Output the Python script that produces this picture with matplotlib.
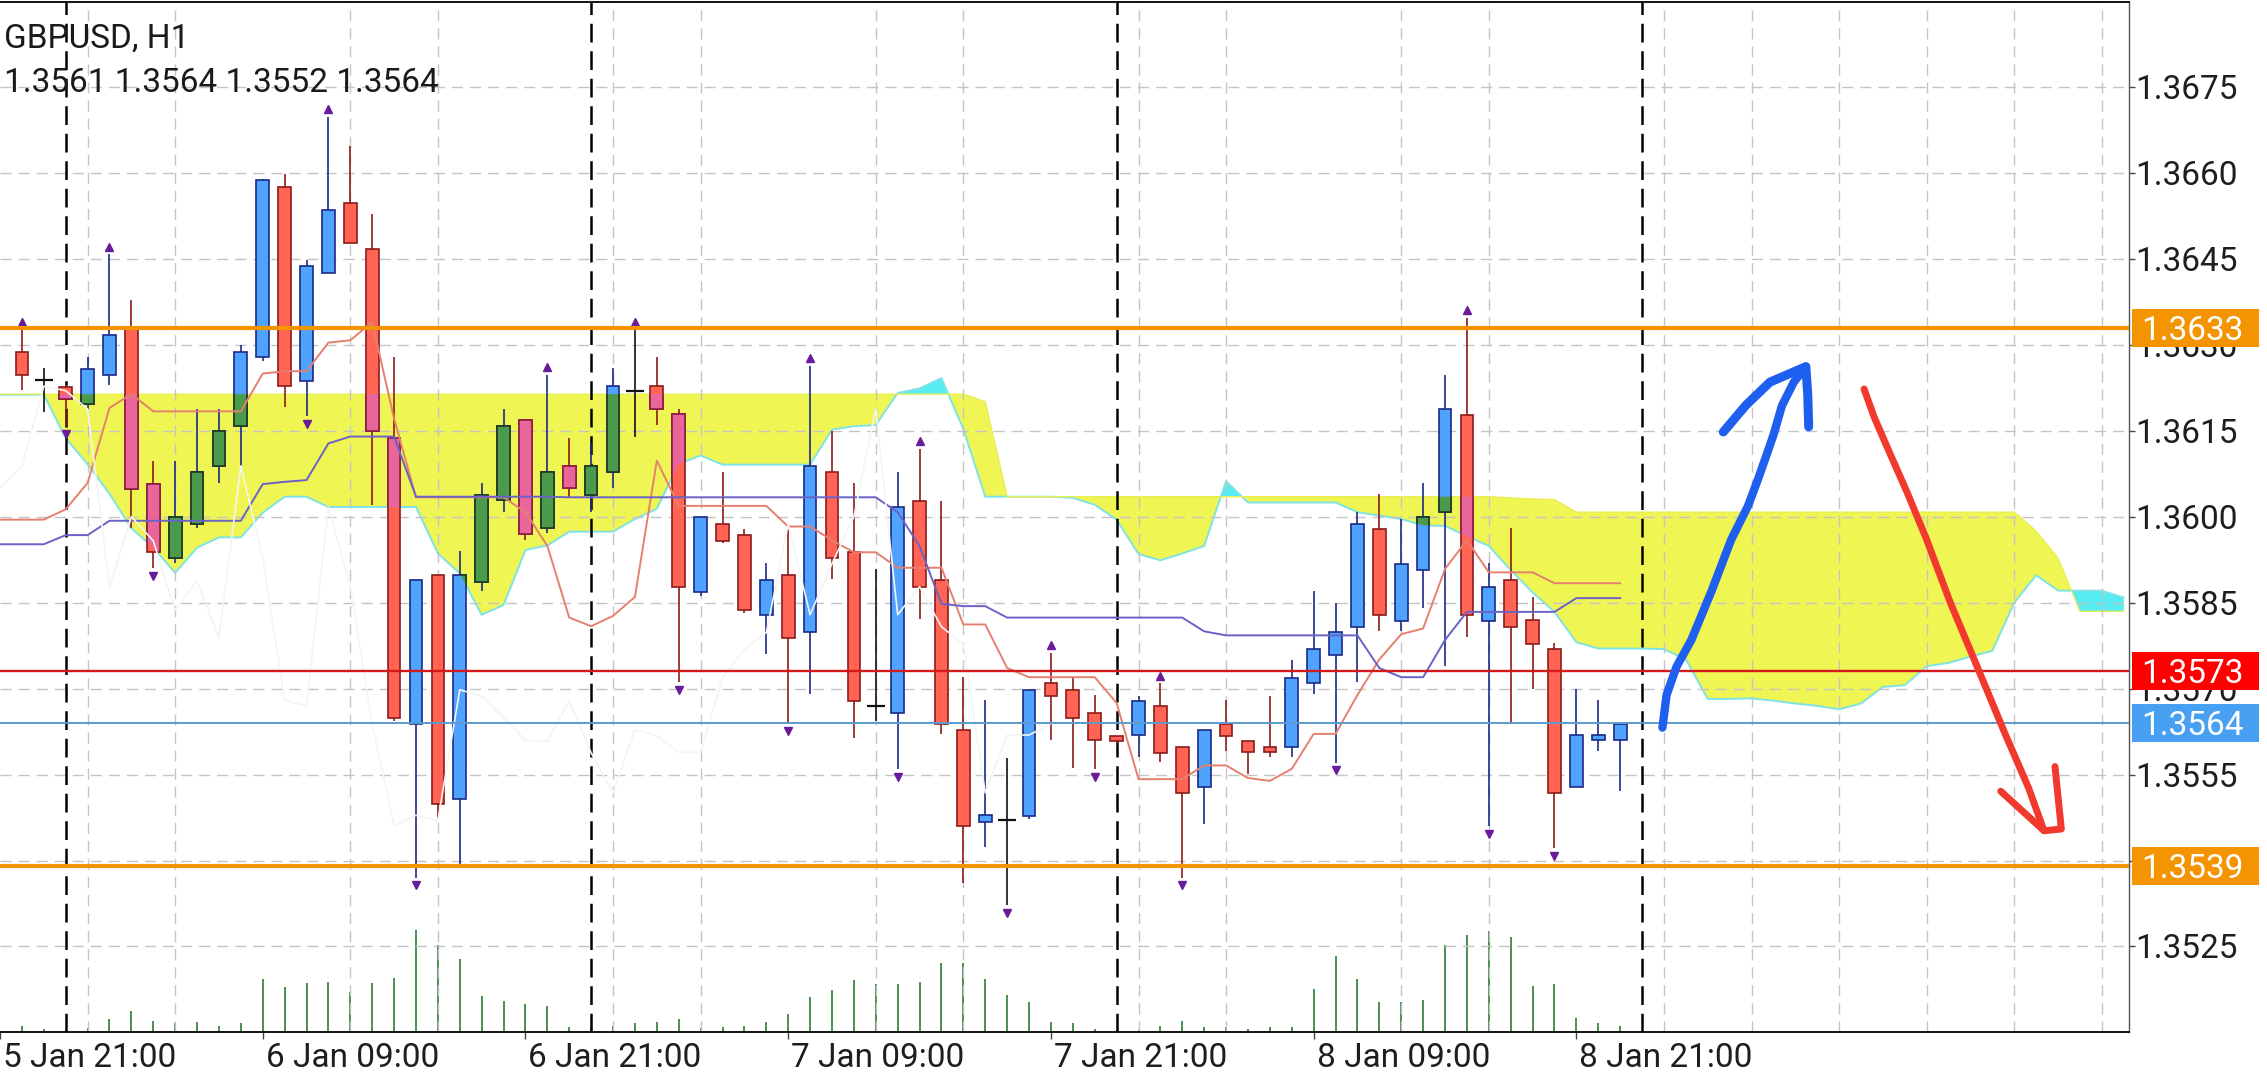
import numpy as np
import matplotlib.pyplot as plt
from matplotlib.path import Path
from matplotlib.patches import Rectangle
from matplotlib.transforms import blended_transform_factory

plt.rcParams['font.family'] = ['Roboto', 'DejaVu Sans']

# bar time in hours from 6 Jan 00:00 (H1 bars)
hours = list(range(-2, 72))
opens = [1.36287, 1.36239, 1.36227, 1.36197, 1.36247, 1.36327, 1.36057, 1.35928, 1.35988, 1.36088,
         1.36158, 1.36278, 1.36576, 1.36237, 1.36426, 1.36547, 1.36467, 1.36137, 1.35639, 1.35899,
         1.35508, 1.35886, 1.36029, 1.36169, 1.35981, 1.36089, 1.36038, 1.36078, 1.36220, 1.36228,
         1.36179, 1.35868, 1.35988, 1.35969, 1.35829, 1.35899, 1.35798, 1.36078, 1.35939, 1.35670,
         1.35658, 1.36027, 1.35889, 1.35628, 1.35468, 1.35470, 1.35478, 1.35709, 1.35698, 1.35658,
         1.35618, 1.35619, 1.35669, 1.35599, 1.35529, 1.35639, 1.35609, 1.35599, 1.35599, 1.35709,
         1.35759, 1.35808, 1.35979, 1.35818, 1.35907, 1.36008, 1.36178, 1.35818, 1.35889, 1.35819,
         1.35769, 1.35529, 1.35610, 1.35610]
highs = [1.36326, 1.36260, 1.36230, 1.36278, 1.36458, 1.36379, 1.36098, 1.36098, 1.36188, 1.36188,
         1.36299, 1.36589, 1.36599, 1.36449, 1.36698, 1.36647, 1.36529, 1.36278, 1.35890, 1.35900,
         1.35940, 1.36059, 1.36188, 1.36170, 1.36248, 1.36137, 1.36128, 1.36260, 1.36326, 1.36278,
         1.36188, 1.36000, 1.36078, 1.35979, 1.35919, 1.35978, 1.36263, 1.36149, 1.36059, 1.35908,
         1.36078, 1.36119, 1.36027, 1.35721, 1.35681, 1.35579, 1.35698, 1.35763, 1.35718, 1.35689,
         1.35618, 1.35688, 1.35709, 1.35599, 1.35628, 1.35680, 1.35609, 1.35688, 1.35750, 1.35871,
         1.35850, 1.36008, 1.36039, 1.35996, 1.36059, 1.36248, 1.36347, 1.35919, 1.35981, 1.35860,
         1.35779, 1.35699, 1.35681, 1.35639]
lows = [1.36221, 1.36182, 1.36158, 1.36188, 1.36230, 1.35981, 1.35910, 1.35919, 1.35981, 1.36059,
        1.36089, 1.36271, 1.36191, 1.36176, 1.36426, 1.36477, 1.36020, 1.35643, 1.35370, 1.35475,
        1.35394, 1.35871, 1.36008, 1.35960, 1.35972, 1.36032, 1.36008, 1.36050, 1.36140, 1.36161,
        1.35712, 1.35862, 1.35955, 1.35832, 1.35761, 1.35640, 1.35691, 1.35892, 1.35613, 1.35643,
        1.35559, 1.35821, 1.35620, 1.35361, 1.35423, 1.35322, 1.35472, 1.35610, 1.35562, 1.35559,
        1.35602, 1.35580, 1.35572, 1.35370, 1.35463, 1.35592, 1.35551, 1.35581, 1.35581, 1.35691,
        1.35571, 1.35712, 1.35800, 1.35800, 1.35841, 1.35740, 1.35790, 1.35460, 1.35641, 1.35700,
        1.35421, 1.35529, 1.35592, 1.35521]
closes = [1.36248, 1.36239, 1.36206, 1.36258, 1.36317, 1.36049, 1.35938, 1.36000, 1.36078, 1.36149,
          1.36287, 1.36587, 1.36228, 1.36438, 1.36536, 1.36477, 1.36149, 1.35649, 1.35889, 1.35499,
          1.35899, 1.36038, 1.36158, 1.35970, 1.36078, 1.36050, 1.36089, 1.36228, 1.36220, 1.36188,
          1.35877, 1.36000, 1.35958, 1.35837, 1.35889, 1.35788, 1.36089, 1.35928, 1.35679, 1.35670,
          1.36017, 1.35878, 1.35639, 1.35460, 1.35479, 1.35470, 1.35698, 1.35687, 1.35649, 1.35610,
          1.35608, 1.35679, 1.35588, 1.35518, 1.35628, 1.35618, 1.35589, 1.35589, 1.35719, 1.35769,
          1.35798, 1.35987, 1.35829, 1.35918, 1.36000, 1.36188, 1.35829, 1.35878, 1.35808, 1.35778,
          1.35518, 1.35619, 1.35619, 1.35639]
volumes = [180, 100, 60, 120, 400, 620, 330, 280, 300, 180,
           280, 1550, 1320, 1430, 1470, 1180, 1430, 1580, 2980, 2550,
           2130, 1050, 920, 830, 770, 170, 150, 200, 280, 300,
           400, 130, 170, 200, 300, 520, 1030, 1240, 1520, 1400,
           1400, 1470, 2020, 2020, 1550, 1080, 880, 300, 280, 100,
           80, 80, 200, 330, 170, 170, 100, 170, 170, 1270,
           2220, 1550, 880, 870, 950, 2530, 2830, 2950, 2780, 1350,
           1400, 420, 280, 180]

# ichimoku lines, h = -3 .. 71
line_hours = list(range(-3, 72))
tenkan = [1.35995, 1.35995, 1.35995, 1.36013, 1.36059, 1.36190, 1.36214, 1.36184, 1.36184,
          1.36184, 1.36184, 1.36184, 1.36250, 1.36254, 1.36254, 1.36304, 1.36308, 1.36340, 1.36171,
          1.36034, 1.36034, 1.36034, 1.36034, 1.36034, 1.36008, 1.35949, 1.35824, 1.35809, 1.35827,
          1.35860, 1.36098, 1.36019, 1.36019, 1.36019, 1.36019, 1.36019, 1.35983, 1.35983, 1.35959,
          1.35938, 1.35938, 1.35911, 1.35911, 1.35911, 1.35812, 1.35812, 1.35736, 1.35720, 1.35720,
          1.35720, 1.35720, 1.35675, 1.35542, 1.35542, 1.35542, 1.35566, 1.35566, 1.35544, 1.35539,
          1.35560, 1.35621, 1.35621, 1.35689, 1.35751, 1.35795, 1.35805, 1.35909, 1.35959, 1.35903,
          1.35903, 1.35903, 1.35884, 1.35884, 1.35884, 1.35884]
kijun = [1.35952, 1.35952, 1.35952, 1.35968, 1.35968, 1.35993, 1.35993, 1.35993, 1.35993, 1.35993,
         1.35993, 1.35993, 1.36057, 1.36061, 1.36064, 1.36128, 1.36140, 1.36140, 1.36140, 1.36035,
         1.36035, 1.36035, 1.36035, 1.36035, 1.36035, 1.36035, 1.36034, 1.36034, 1.36034, 1.36034,
         1.36034, 1.36034, 1.36034, 1.36034, 1.36034, 1.36034, 1.36034, 1.36034, 1.36034, 1.36034,
         1.36034, 1.36008, 1.35949, 1.35848, 1.35844, 1.35844, 1.35824, 1.35824, 1.35824, 1.35824,
         1.35824, 1.35824, 1.35824, 1.35824, 1.35824, 1.35800, 1.35793, 1.35793, 1.35793, 1.35793,
         1.35793, 1.35793, 1.35793, 1.35736, 1.35720, 1.35720, 1.35785, 1.35834, 1.35834, 1.35834,
         1.35834, 1.35834, 1.35858, 1.35858, 1.35858]

# cloud, h = -3 .. 94
cloud_hours = list(range(-3, 95))
span_a = [1.36213, 1.36213, 1.36213, 1.36137, 1.36092, 1.36040, 1.35980, 1.35946, 1.35902, 1.35946,
          1.35964, 1.35964, 1.36007, 1.36035, 1.36035, 1.36017, 1.36017, 1.36017, 1.36017, 1.36017,
          1.35936, 1.35901, 1.35829, 1.35846, 1.35942, 1.35950, 1.35974, 1.35974, 1.35974, 1.35996,
          1.36014, 1.36092, 1.36107, 1.36091, 1.36091, 1.36091, 1.36091, 1.36091, 1.36152, 1.36158,
          1.36160, 1.36216, 1.36224, 1.36242, 1.36153, 1.36035, 1.36035, 1.36035, 1.36035, 1.36033,
          1.36021, 1.35995, 1.35935, 1.35924, 1.35936, 1.35949, 1.36062, 1.36025, 1.36025, 1.36025,
          1.36025, 1.36025, 1.36008, 1.36002, 1.35996, 1.35985, 1.35984, 1.35966, 1.35949, 1.35907,
          1.35868, 1.35834, 1.35781, 1.35770, 1.35770, 1.35770, 1.35769, 1.35751, 1.35682, 1.35682,
          1.35683, 1.35679, 1.35674, 1.35670, 1.35664, 1.35674, 1.35703, 1.35706, 1.35739, 1.35745,
          1.35756, 1.35766, 1.35850, 1.35898, 1.35871, 1.35871, 1.35871, 1.35859]
span_b = [1.36214, 1.36214, 1.36214, 1.36214, 1.36214, 1.36214, 1.36214, 1.36214, 1.36214, 1.36214,
          1.36214, 1.36214, 1.36214, 1.36214, 1.36214, 1.36214, 1.36214, 1.36214, 1.36214, 1.36214,
          1.36214, 1.36214, 1.36214, 1.36214, 1.36214, 1.36214, 1.36214, 1.36214, 1.36214, 1.36214,
          1.36214, 1.36214, 1.36214, 1.36214, 1.36214, 1.36214, 1.36214, 1.36214, 1.36214, 1.36214,
          1.36214, 1.36214, 1.36214, 1.36214, 1.36214, 1.36201, 1.36035, 1.36035, 1.36035, 1.36035,
          1.36035, 1.36035, 1.36035, 1.36035, 1.36035, 1.36035, 1.36035, 1.36035, 1.36035, 1.36035,
          1.36035, 1.36035, 1.36035, 1.36035, 1.36035, 1.36035, 1.36035, 1.36035, 1.36035, 1.36033,
          1.36031, 1.36030, 1.36008, 1.36008, 1.36008, 1.36008, 1.36008, 1.36008, 1.36008, 1.36008,
          1.36008, 1.36008, 1.36008, 1.36008, 1.36008, 1.36008, 1.36008, 1.36008, 1.36008, 1.36008,
          1.36008, 1.36008, 1.36008, 1.35975, 1.35928, 1.35835, 1.35835, 1.35835]

up_fractals = [-2, 2, 12, 22, 26, 34, 39, 45, 50, 64]
down_fractals = [0, 4, 11, 16, 28, 33, 38, 43, 47, 51, 58, 65, 68]

price_ticks = [1.3525, 1.3540, 1.3555, 1.3570, 1.3585, 1.3600, 1.3615, 1.3630, 1.3645, 1.3660, 1.3675]
price_labels = ['1.3525', '', '1.3555', '1.3570', '1.3585', '1.3600', '1.3615', '1.3630',
                '1.3645', '1.3660', '1.3675']
time_ticks = [-3, 9, 21, 33, 45, 57, 69]
time_labels = ['5 Jan 21:00', '6 Jan 09:00', '6 Jan 21:00', '7 Jan 09:00',
               '7 Jan 21:00', '8 Jan 09:00', '8 Jan 21:00']
grid_hours = list(range(-3, 95, 4))
separators = [0, 24, 48, 72]

levels = [1.3633, 1.3573, 1.3564, 1.3539]
level_labels = ['1.3633', '1.3573', '1.3564', '1.3539']
level_line_colors = ['#F39400', '#D41A1A', '#5B9BCF', '#F39400']
level_box_colors = ['#F39400', '#FF0000', '#48A0F2', '#F39400']
level_widths = [3.0, 1.7, 1.4, 3.0]

# hand drawn arrows (hour, price)
blue_x = [72.93, 73.12, 73.57, 74.25, 75.16, 76.07, 76.84, 77.30, 77.75, 78.02, 78.39, 78.93, 79.48]
blue_y = [1.35632, 1.35689, 1.35738, 1.35785, 1.35869, 1.35960, 1.36019, 1.36066, 1.36115, 1.36145,
          1.36194, 1.36235, 1.36262]
blue_head_x = [75.71, 76.75, 77.84, 79.48, 79.57, 79.61]
blue_head_y = [1.36148, 1.36195, 1.36235, 1.36262, 1.36211, 1.36157]
red_x = [82.14, 82.59, 83.20, 84.10, 85.00, 86.07, 87.32, 88.56, 89.65, 90.36]
red_y = [1.36223, 1.36175, 1.36121, 1.36043, 1.35960, 1.35851, 1.35737, 1.35623, 1.35527, 1.35452]
red_head_x = [88.38, 90.36, 91.15, 90.86]
red_head_y = [1.35521, 1.35452, 1.35455, 1.35564]

W, H = 2267, 1080
fig = plt.figure(figsize=(W / 100, H / 100), dpi=100)
rect = [0, 1 - 1032.4 / H, 2129 / W, (1032.4 - 1.7) / H]
vax = fig.add_axes(rect)
ax = fig.add_axes(rect, sharex=vax)
ax.patch.set_alpha(0)
vax.set_zorder(0)
ax.set_zorder(1)

ax.set_xlim(-2.485, 94.24)
ax.set_ylim(1.35100, 1.36899)
vax.set_ylim(0, 29930)
vax.axis('off')

# volume
vax.vlines(hours, 0, volumes, colors='#2E7D32', lw=1.2)

# cloud
A = np.array(span_a)
B = np.array(span_b)
yellow = ax.fill_between(cloud_hours, A, B, where=B >= A, interpolate=True,
                         facecolor='#EFF553', edgecolor='none', zorder=0.5)
ax.fill_between(cloud_hours, A, B, where=A > B, interpolate=True,
                facecolor='#55EDF2', edgecolor='none', zorder=0.5)
ax.plot(cloud_hours, span_a, color='#7FE3E6', lw=1.4, zorder=0.8)
ax.plot(cloud_hours, span_b, color='#E9EE55', lw=1.0, zorder=0.8)

# grid
ax.set_yticks(price_ticks)
ax.set_yticklabels([])
ax.set_xticks(time_ticks)
ax.set_xticklabels([])
ax.set_xticks(grid_hours, minor=True)
ax.grid(True, axis='y', which='major', color='#C4C4C4', lw=1.0, ls=(0, (8, 5)), zorder=1.5)
ax.grid(True, axis='x', which='minor', color='#C4C4C4', lw=1.0, ls=(0, (8, 5)), zorder=1.5)
ax.yaxis.tick_right()
ax.tick_params(axis='y', which='major', length=4, width=1, color='#444444')
ax.tick_params(axis='x', which='major', length=5, width=1, color='#444444')
ax.tick_params(axis='x', which='minor', length=0)

for s in separators:
    ax.axvline(s, color='black', lw=1.8, ls=(0, (7.5, 3.5)), zorder=2)

# candles
o = np.array(opens)
c = np.array(closes)
bull = c > o
bear = c < o
doji = c == o
hx = np.array(hours)
wick_col = np.where(bull, '#1B2A86', np.where(bear, '#8E1B1B', '#111111'))
ax.vlines(hx, lows, highs, colors=list(wick_col), lw=1.2, zorder=3.8)
bw = 0.58
body_lo = np.minimum(o, c)
body_h = np.abs(c - o)
ax.bar(hx[bull], body_h[bull], bottom=body_lo[bull], width=bw, color='#4FA3FF',
       edgecolor='#1B2A86', lw=1.2, zorder=4)
ax.bar(hx[bear], body_h[bear], bottom=body_lo[bear], width=bw, color='#FF6454',
       edgecolor='#8E1B1B', lw=1.2, zorder=4)
ax.hlines(c[doji], hx[doji] - 0.4, hx[doji] + 0.4, colors='#111111', lw=1.6, zorder=4)

# bodies take other colours where they sit inside the cloud
clip = Path.make_compound_path(*yellow.get_paths())
gb = ax.bar(hx[bull], body_h[bull], bottom=body_lo[bull], width=bw, color='#4C9B4C',
            edgecolor='#1E3A1E', lw=1.2, zorder=4.1)
pb = ax.bar(hx[bear], body_h[bear], bottom=body_lo[bear], width=bw, color='#E8669A',
            edgecolor='#8A1E44', lw=1.2, zorder=4.1)
for r in list(gb) + list(pb):
    r.set_clip_path(clip, ax.transData)

# tenkan, kijun, chikou (close shifted back 26 bars)
chikou_hours = [h - 26 for h in hours if h - 26 >= -3]
chikou = [closes[i] for i, h in enumerate(hours) if h - 26 >= -3]
ax.plot(line_hours, tenkan, color='#E5806F', lw=1.4, zorder=5)
ax.plot(line_hours, kijun, color='#6A62C6', lw=1.4, zorder=5)
ax.plot(chikou_hours, chikou, color='#F4F4F4', lw=1.2, zorder=5)

# fractals
off = 0.000135
ax.plot(up_fractals, [highs[hours.index(h)] + off for h in up_fractals], ls='none',
        marker='^', ms=6, color='#6A1B9A', zorder=5)
ax.plot(down_fractals, [lows[hours.index(h)] - off for h in down_fractals], ls='none',
        marker='v', ms=6, color='#6A1B9A', zorder=5)

# levels
for lv, lc, lw in zip(levels, level_line_colors, level_widths):
    ax.axhline(lv, color=lc, lw=lw, zorder=6)

# arrows
ax.plot(blue_x, blue_y, color='#1F5FF0', lw=6.0, solid_capstyle='round',
        solid_joinstyle='round', zorder=8)
ax.plot(blue_head_x, blue_head_y, color='#1F5FF0', lw=6.5, solid_capstyle='round',
        solid_joinstyle='round', zorder=8)
ax.plot(red_x, red_y, color='#F2392E', lw=5.0, solid_capstyle='round',
        solid_joinstyle='round', zorder=8)
ax.plot(red_head_x, red_head_y, color='#F2392E', lw=5.0, solid_capstyle='round',
        solid_joinstyle='round', zorder=8)

# spines
ax.spines['left'].set_visible(False)
ax.spines['top'].set_linewidth(1.3)
ax.spines['bottom'].set_linewidth(1.3)
ax.spines['right'].set_color('#555555')
ax.spines['right'].set_linewidth(1.0)

# price labels
pxp = 57300.0
ty = blended_transform_factory(ax.transAxes, ax.transData)
for p, lab in zip(price_ticks, price_labels):
    if lab:
        ax.text(1 + 6 / 2129, p - 12 / pxp, lab, transform=ty, ha='left', va='baseline',
                fontsize=24, color='#1E1E1E', clip_on=False, zorder=9)
fy = blended_transform_factory(fig.transFigure, ax.transData)
for lv, lab, bc in zip(levels, level_labels, level_box_colors):
    ax.add_patch(Rectangle((2132 / W, lv - 19 / pxp), 127 / W, 38 / pxp, transform=fy,
                           facecolor=bc, edgecolor='none', clip_on=False, zorder=10))
    ax.text(2141 / W, lv - 12 / pxp, lab, transform=fy, ha='left', va='baseline',
            fontsize=24, color='white', clip_on=False, zorder=11)

# time labels
tx = blended_transform_factory(ax.transData, ax.transAxes)
for t, lab in zip(time_ticks, time_labels):
    ax.text(t + 3 / 22.01, -34.5 / 1030.7, lab, transform=tx, ha='left', va='baseline',
            fontsize=24, color='#1E1E1E', clip_on=False)

fig.text(4 / W, 1 - 48 / H, 'GBPUSD, H1', fontsize=24, color='#1A1A1A', va='baseline')
fig.text(4 / W, 1 - 92 / H, '1.3561 1.3564 1.3552 1.3564', fontsize=24, color='#1A1A1A',
         va='baseline')

fig.savefig('out.png', dpi=100)
